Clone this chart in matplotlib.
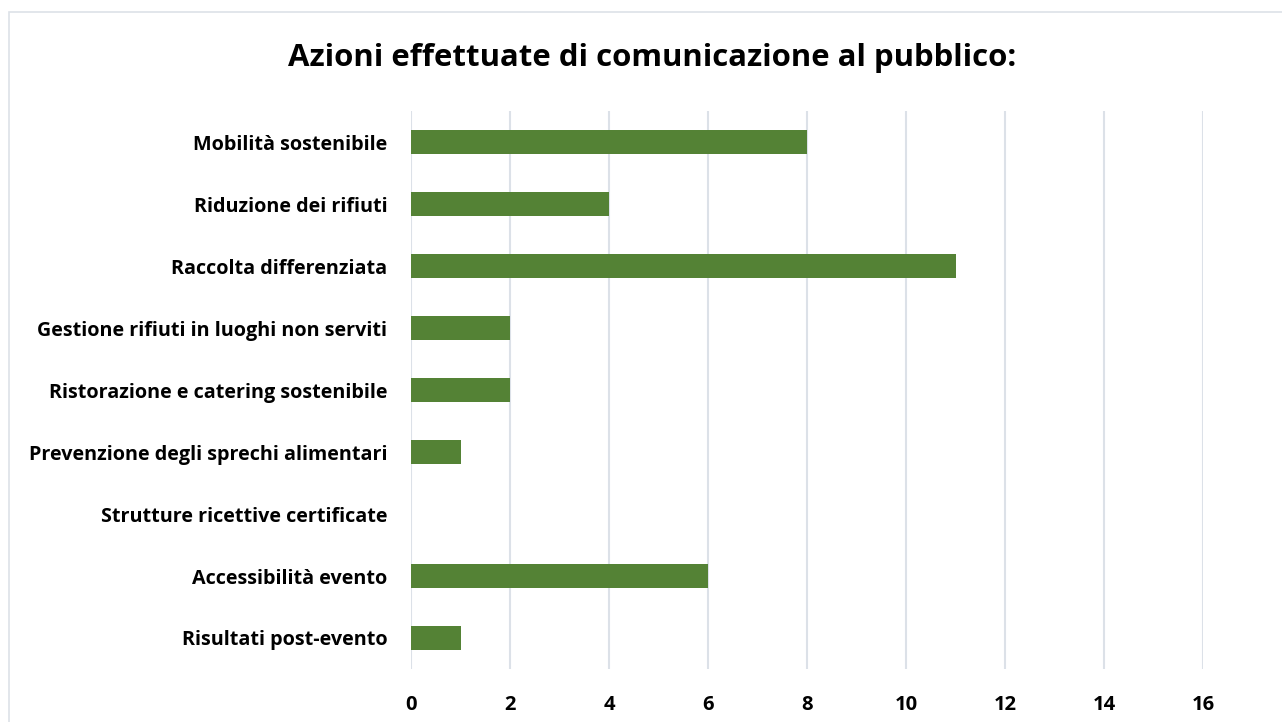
import matplotlib
matplotlib.use("Agg")
import matplotlib.pyplot as plt
from matplotlib.patches import Rectangle

categories = [
    "Mobilità sostenibile",
    "Riduzione dei rifiuti",
    "Raccolta differenziata",
    "Gestione rifiuti in luoghi non serviti",
    "Ristorazione e catering sostenibile",
    "Prevenzione degli sprechi alimentari",
    "Strutture ricettive certificate",
    "Accessibilità evento",
    "Risultati post-evento",
]
values = [8, 4, 11, 2, 2, 1, 0, 6, 1]
xticks = [0, 2, 4, 6, 8, 10, 12, 14, 16]
title = "Azioni effettuate di comunicazione al pubblico:"

plt.rcParams['font.family'] = ['Open Sans', 'DejaVu Sans']

fig = plt.figure(figsize=(12.82, 7.22), dpi=100)
fig.patches.append(Rectangle((9/1282, -0.1), 1.2, 1 - 12/722 + 0.1,
                             transform=fig.transFigure, fill=False,
                             edgecolor="#DDE2E8", linewidth=1.2))
ax = fig.add_axes([411/1282, 1 - 669/722, (1203 - 411)/1282, (669 - 111)/722])

y = list(range(len(categories)))
ax.barh(y, values, height=0.4, color="#548235", zorder=3)
ax.set_ylim(len(categories) - 0.5, -0.5)
ax.set_xlim(0, 16)
ax.set_yticks(y)
ax.set_yticklabels(categories, fontsize=14.2, fontweight="bold")
ax.set_xticks(xticks)
ax.set_xticklabels([str(t) for t in xticks], fontsize=14.5, fontweight="bold")
ax.tick_params(axis="both", length=0)
ax.tick_params(axis="y", pad=17)
ax.tick_params(axis="x", pad=19)
ax.grid(axis="x", color="#DCE1E8", linewidth=1.5, zorder=0)
for s in ax.spines.values():
    s.set_visible(False)
fig.text(652/1282, 1 - 58/722, title, ha="center", va="center",
         fontsize=22.4, fontweight="bold")
fig.savefig("out.png", dpi=100)
